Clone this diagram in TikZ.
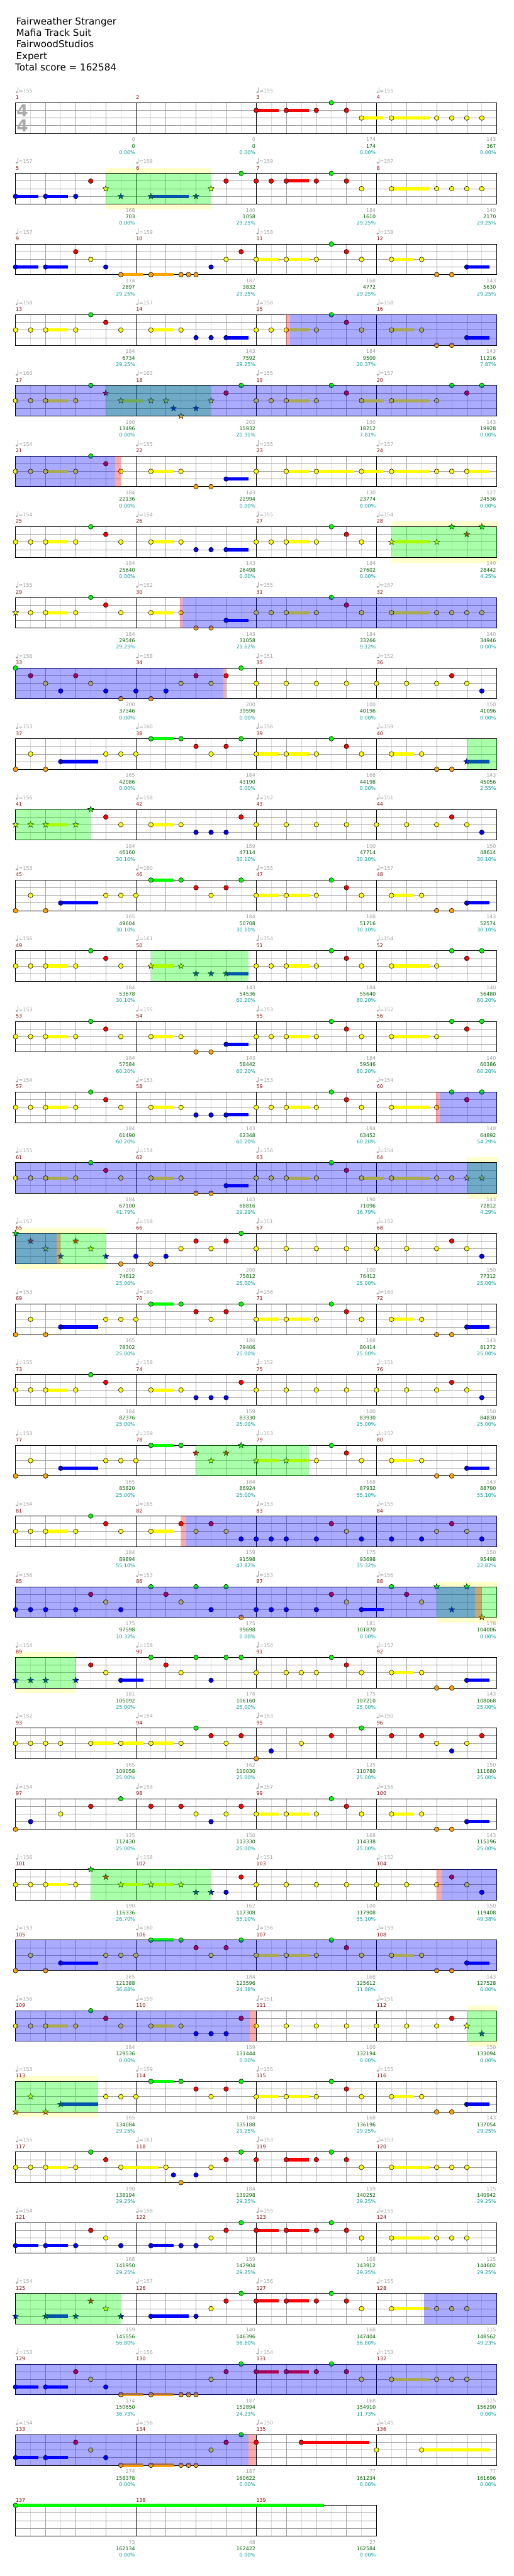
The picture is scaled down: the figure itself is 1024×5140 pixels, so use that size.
\documentclass[tikz,border=0pt]{standalone}
\usepackage{fontspec}
\setmainfont{DejaVu Sans}
\usetikzlibrary{shapes.geometric}

\definecolor{fretG}{RGB}{0,255,0}
\definecolor{fretR}{RGB}{255,0,0}
\definecolor{fretY}{RGB}{255,255,0}
\definecolor{fretB}{RGB}{0,0,255}
\definecolor{fretO}{RGB}{255,165,0}
\definecolor{gridlight}{RGB}{220,220,220}
\definecolor{gridmid}{RGB}{160,160,160}
\definecolor{spglow}{RGB}{255,255,204}
\definecolor{barred}{RGB}{139,0,0}
\definecolor{softgray}{RGB}{160,160,160}
\definecolor{timegray}{RGB}{170,170,170}
\definecolor{scoregreen}{RGB}{0,100,0}
\definecolor{pctteal}{RGB}{0,153,153}

\newcommand\chartfont{\fontsize{10}{12}\selectfont}
\def\lnG{0}\def\lnR{1}\def\lnY{2}\def\lnB{3}\def\lnO{4}

% staff row helpers (positions in eighth notes, 0..31 per row)
\newcommand\setrow[1]{\pgfmathsetmacro\rowtop{205+141*#1}}
\newcommand\drawstaff[1]{%
  \pgfmathsetmacro\rowwd{240*#1}%
  \pgfmathtruncatemacro\nsub{8*#1}%
  \pgfmathtruncatemacro\nbar{#1-1}%
  \foreach \vk in {1,3,...,\nsub} \draw[gridlight] ({31+30*\vk},\rowtop) -- ++(0,61);
  \foreach \vk in {2,4,...,\nsub} \draw[gridmid] ({31+30*\vk},\rowtop) -- ++(0,61);
  \foreach \hl in {1,2,3} \draw[gridmid] (31,{\rowtop+15.25*\hl}) -- ++(\rowwd,0);
  \foreach \mj in {1,...,\nbar} \draw ({31+240*\mj},\rowtop) -- ++(0,61);
  \draw (31,\rowtop) rectangle ++(\rowwd,61);
}
\newcommand\tails[1]{%
  \foreach \p/\q/\fr in {#1} {%
    \pgfmathsetmacro\gy{\rowtop+15.25*\csname ln\fr\endcsname}%
    \draw[tail, draw=fret\fr] ({31+30*\p},\gy) -- ({31+30*\q},\gy);
  }}
\newcommand\gems[1]{%
  \foreach \p/\fr in {#1} {%
    \pgfmathsetmacro\gy{\rowtop+15.25*\csname ln\fr\endcsname}%
    \filldraw[gem, fill=fret\fr] ({31+30*\p},\gy) circle (4.7pt);
  }}
\newcommand\stargems[1]{%
  \foreach \p/\fr in {#1} {%
    \pgfmathsetmacro\gy{\rowtop+15.25*\csname ln\fr\endcsname}%
    \node[stargem, fill=fret\fr] at ({31+30*\p},\gy) {};
  }}
\newcommand\sphalo[2]{%
  \fill[spglow] ({31+30*#1},{\rowtop-10.5}) rectangle ({31+30*#2},\rowtop);
  \fill[spglow] ({31+30*#1},{\rowtop+61}) rectangle ({31+30*#2},{\rowtop+71.5});}
\newcommand\spgreen[2]{\fill[fretG, fill opacity=0.333] ({31+30*#1},\rowtop) rectangle ({31+30*#2},{\rowtop+61});}
\newcommand\spblue[2]{\fill[fretB, fill opacity=0.333] ({31+30*#1},\rowtop) rectangle ({31+30*#2},{\rowtop+61});}
\newcommand\spedge[2]{\fill[fretR, fill opacity=0.333] ({31+30*#1},\rowtop) rectangle ({31+30*#2},{\rowtop+61});}
\newcommand\barinfo[1]{%
  \foreach \mno/\tm/\bscore/\tot/\pc [count=\mj from 0] in {#1} {%
    \pgfmathsetmacro\bx{31+240*\mj}%
    \edef\tmpo{\tm}%
    \node[barno] (bar-\mno) at (\bx,{\rowtop-7}) {\mno};
    \ifx\tmpo\empty\else\pic at (\bx,{\rowtop-20}) {tempo=\tm};\fi
    \node[ptsno] at ({\bx+239},{\rowtop+77}) {\bscore};
    \node[totno] at ({\bx+239},{\rowtop+90}) {\tot};
    \node[pctno] at ({\bx+239},{\rowtop+103}) {\pc\%};
  }}

\begin{document}
\begin{tikzpicture}[
  x=1pt, y=-1pt, line width=1pt,
  gem/.style={draw=black, line width=0.7pt},
  stargem/.style={star, star points=5, star point ratio=2.4, minimum size=12.5pt, inner sep=0pt, draw=black, line width=0.6pt},
  tail/.style={line width=6.5pt},
  headline/.style={anchor=base west, inner sep=0pt, font=\fontsize{19}{23}\selectfont},
  timesig/.style={inner sep=0pt, text=timegray, font=\bfseries\fontsize{33}{33}\selectfont},
  barno/.style={anchor=base west, inner sep=0pt, text=barred, font=\chartfont},
  tempotxt/.style={anchor=base west, inner sep=0pt, text=softgray, font=\chartfont},
  ptsno/.style={anchor=base east, inner sep=0pt, text=softgray, font=\chartfont},
  totno/.style={anchor=base east, inner sep=0pt, text=scoregreen, font=\chartfont},
  pctno/.style={anchor=base east, inner sep=0pt, text=pctteal, font=\chartfont},
  pics/tempo/.style={code={
    \fill[softgray] (2.4,-1) ellipse (2.4pt and 1.8pt);
    \draw[softgray, line width=0.8pt] (4.4,-1) -- (4.4,-11);
    \node[tempotxt] at (6,0) {=#1};
  }}
]
\useasboundingbox (0,0) rectangle (1024,5140);

\node[headline] (song) at (31.5,49.3) {Fairweather Stranger};
\node[headline] (band) at (31.5,72) {Mafia Track Suit};
\node[headline] (charter) at (31.5,95) {FairwoodStudios};
\node[headline] (level) at (31.5,118.3) {Expert};
\node[headline] (total) at (29.7,141.3) {Total score = 162584};

% measures 1-4
\setrow{0}\drawstaff{4}
\node[timesig] (tsup) at (44.5,221) {4};
\node[timesig] (tsdown) at (44.5,250.5) {4};
\tails{16/17.5/R,18/19.5/R,23/24.5/Y,25/27.5/Y}
\gems{16/R,18/R,20/R,21/G,22/R,23/Y,25/Y,28/Y,29/Y,30/Y,31/Y}
\barinfo{1/155/0/0/0.00,2//0/0/0.00,3/155/174/174/0.00,4/155/143/367/0.00}

% measures 5-8
\setrow{1}\sphalo{6}{13}\drawstaff{4}
\tails{0/1.5/B,2/3.5/B,9/11.5/B,18/19.5/R,25/27.5/Y}
\gems{0/B,2/B,4/B,5/R,14/R,15/G,16/R,17/R,18/R,20/R,21/G,22/R,23/Y,25/Y,28/Y,29/Y,30/Y,31/Y}
\stargems{6/Y,7/B,9/B,12/B,13/Y}
\spgreen{6}{13}
\barinfo{5/157/168/703/0.00,6/158/140/1058/29.25,7/159/184/1610/29.25,8/157/140/2170/29.25}

% measures 9-12
\setrow{2}\drawstaff{4}
\tails{0/1.5/B,2/3.5/B,7/8.5/O,9/10.5/O,16/17.5/Y,18/19.5/Y,25/26.5/Y,30/31.5/B}
\gems{0/B,2/B,4/R,5/Y,6/B,7/O,9/O,11/O,11.5/O,12/O,13/B,14/Y,15/R,16/Y,18/Y,20/Y,21/G,22/R,23/Y,25/Y,27/Y,28/O,29/O,30/B}
\barinfo{9/157/174/2897/29.25,10/159/187/3832/29.25,11/158/168/4772/29.25,12/158/143/5630/29.25}

% measures 13-16
\setrow{3}\drawstaff{4}
\tails{2/3.5/Y,9/10.5/Y,14/15.5/B,18/19.5/Y,25/26.5/Y,30/31.5/B}
\gems{0/Y,1/Y,2/Y,4/Y,5/G,6/R,7/Y,9/Y,11/Y,12/B,13/B,14/B,16/Y,17/Y,18/Y,20/Y,21/G,22/R,23/Y,25/Y,27/Y,28/O,29/O,30/B}
\spblue{18.27}{32}\spedge{18}{18.27}
\barinfo{13/158/184/6734/29.25,14/157/143/7592/29.25,15/158/184/9500/20.37,16/158/143/11216/7.87}

% measures 17-20
\setrow{4}\drawstaff{4}
\tails{2/3.5/Y,7/8.5/Y,18/19.5/Y,23/24.5/Y,25/27.5/Y}
\gems{0/Y,1/Y,2/Y,4/Y,5/G,14/R,15/G,16/Y,17/Y,18/Y,20/Y,21/G,22/R,23/Y,25/Y,28/Y,29/G,30/R,31/G}
\stargems{6/R,7/Y,9/Y,10/Y,10.5/B,11/O,12/B,13/Y}
\spgreen{6}{13}\spblue{0}{32}
\barinfo{17/160/190/13496/0.00,18/163/203/15932/20.31,19/155/190/18212/7.81,20/157/143/19928/0.00}

% measures 21-24
\setrow{5}\drawstaff{4}
\tails{2/3.5/Y,9/10.5/Y,14/15.5/B,18/19.5/Y,20/22.5/Y,23/24.5/Y,25/27.5/Y,30/31.5/Y}
\gems{0/Y,1/Y,2/Y,4/Y,5/G,6/R,7/Y,9/Y,11/Y,12/O,13/O,14/B,16/Y,18/Y,20/Y,23/Y,25/Y,28/Y,29/Y,30/Y}
\spblue{0}{6.64}\spedge{6.64}{7}
\barinfo{21/154/184/22136/0.00,22/155/143/22994/0.00,23/155/130/23774/0.00,24/157/127/24536/0.00}

% measures 25-28
\setrow{6}\sphalo{25}{32}\drawstaff{4}
\tails{2/3.5/Y,9/10.5/Y,14/15.5/B,18/19.5/Y,25/27.5/Y}
\gems{0/Y,1/Y,2/Y,4/Y,5/G,6/R,7/Y,9/Y,11/Y,12/B,13/B,14/B,16/Y,17/Y,18/Y,20/Y,21/G,22/R,23/Y}
\stargems{25/Y,28/Y,29/G,30/R,31/G}
\spgreen{25}{32}
\barinfo{25/154/184/25640/0.00,26/154/143/26498/0.00,27/155/184/27602/0.00,28/154/140/28442/4.25}

% measures 29-32
\setrow{7}\drawstaff{4}
\tails{2/3.5/Y,9/10.5/Y,14/15.5/B,18/19.5/Y,25/27.5/Y}
\gems{1/Y,2/Y,4/Y,5/G,6/R,7/Y,9/Y,11/Y,12/O,13/O,14/B,16/Y,17/Y,18/Y,20/Y,21/G,22/R,23/Y,25/Y,28/Y,29/Y,30/Y,31/Y}
\stargems{0/Y}
\spblue{11.1}{32}\spedge{10.93}{11.1}
\barinfo{29/155/184/29546/29.25,30/152/143/31058/21.62,31/155/184/33266/9.12,32/157/140/34946/0.00}

% measures 33-36
\setrow{8}\drawstaff{4}
\gems{0/G,1/R,2/Y,3/B,4/R,5/Y,6/B,7/O,8/B,9/O,10/B,11/Y,12/R,13/Y,14/R,15/G,16/Y,18/Y,20/Y,22/Y,24/Y,26/Y,28/Y,29/R,30/Y,31/B}
\spblue{0}{13.82}\spedge{13.82}{14}
\barinfo{33/156/200/37346/0.00,34/158/200/39596/0.00,35/151/100/40196/0.00,36/152/150/41096/0.00}

% measures 37-40
\setrow{9}\drawstaff{4}
\tails{3/5.5/B,9/10.5/G,16/17.5/Y,18/19.5/Y,25/26.5/Y,30/31.5/B}
\gems{0/O,1/Y,2/O,3/B,6/Y,7/Y,8/Y,9/G,11/G,12/R,13/Y,14/R,15/G,16/Y,18/Y,20/Y,21/G,22/R,23/Y,25/Y,27/Y,28/O,29/O}
\stargems{30/B}
\spgreen{30}{32}
\barinfo{37/153/165/42086/0.00,38/160/184/43190/0.00,39/156/168/44198/0.00,40/159/143/45056/2.55}

% measures 41-44
\setrow{10}\drawstaff{4}
\tails{2/3.5/Y,9/10.5/Y}
\gems{6/R,7/Y,9/Y,11/Y,12/B,13/B,14/B,15/R,16/Y,18/Y,20/Y,22/Y,24/Y,26/Y,28/Y,29/R,30/Y,31/B}
\stargems{0/Y,1/Y,2/Y,4/Y,5/G}
\spgreen{0}{5}
\barinfo{41/156/184/46160/30.10,42/158/159/47114/30.10,43/152/100/47714/30.10,44/151/150/48614/30.10}

% measures 45-48
\setrow{11}\drawstaff{4}
\tails{3/5.5/B,9/10.5/G,16/17.5/Y,18/19.5/Y,25/26.5/Y,30/31.5/B}
\gems{0/O,1/Y,2/O,3/B,6/Y,7/Y,8/Y,9/G,11/G,12/R,13/Y,14/R,15/G,16/Y,18/Y,20/Y,21/G,22/R,23/Y,25/Y,27/Y,28/O,29/O,30/B}
\barinfo{45/153/165/49604/30.10,46/160/184/50708/30.10,47/155/168/51716/30.10,48/157/143/52574/30.10}

% measures 49-52
\setrow{12}\drawstaff{4}
\tails{2/3.5/Y,9/10.5/Y,14/15.5/B,18/19.5/Y,25/27.5/Y}
\gems{0/Y,1/Y,2/Y,4/Y,5/G,6/R,7/Y,16/Y,17/Y,18/Y,20/Y,21/G,22/R,23/Y,25/Y,28/Y,29/G,30/R,31/G}
\stargems{9/Y,11/Y,12/B,13/B,14/B}
\spgreen{9}{15.5}
\barinfo{49/156/184/53678/30.10,50/161/143/54536/60.20,51/154/184/55640/60.20,52/154/140/56480/60.20}

% measures 53-56
\setrow{13}\drawstaff{4}
\tails{2/3.5/Y,9/10.5/Y,14/15.5/B,18/19.5/Y,25/27.5/Y}
\gems{0/Y,1/Y,2/Y,4/Y,5/G,6/R,7/Y,9/Y,11/Y,12/O,13/O,14/B,16/Y,17/Y,18/Y,20/Y,21/G,22/R,23/Y,25/Y,28/Y,29/G,30/R,31/G}
\barinfo{53/153/184/57584/60.20,54/155/143/58442/60.20,55/153/184/59546/60.20,56/152/140/60386/60.20}

% measures 57-60
\setrow{14}\drawstaff{4}
\tails{2/3.5/Y,9/10.5/Y,14/15.5/B,18/19.5/Y,25/27.5/Y}
\gems{0/Y,1/Y,2/Y,4/Y,5/G,6/R,7/Y,9/Y,11/Y,12/B,13/B,14/B,16/Y,17/Y,18/Y,20/Y,21/G,22/R,23/Y,25/Y,28/Y,29/G,30/R,31/G}
\spblue{28.2}{32}\spedge{27.95}{28.2}
\barinfo{57/154/184/61490/60.20,58/153/143/62348/60.20,59/153/184/63452/60.20,60/154/140/64892/54.29}

% measures 61-64
\setrow{15}\sphalo{30}{32}\drawstaff{4}
\tails{2/3.5/Y,9/10.5/Y,14/15.5/B,18/19.5/Y,23/24.5/Y,25/27.5/Y}
\gems{0/Y,1/Y,2/Y,4/Y,5/G,6/R,7/Y,9/Y,11/Y,12/O,13/O,14/B,16/Y,17/Y,18/Y,20/Y,21/G,22/R,23/Y,25/Y,28/Y,29/Y}
\stargems{30/Y,31/Y}
\spgreen{30}{32}\spblue{0}{32}
\barinfo{61/155/184/67100/41.79,62/154/143/68816/29.29,63/156/190/71096/16.79,64/154/143/72812/4.29}

% measures 65-68
\setrow{16}\sphalo{0}{6}\drawstaff{4}
\gems{7/O,8/B,9/O,10/B,11/Y,12/R,13/Y,14/R,15/G,16/Y,18/Y,20/Y,22/Y,24/Y,26/Y,28/Y,29/R,30/Y,31/B}
\stargems{0/G,1/R,2/Y,3/B,4/R,5/Y,6/B}
\spgreen{0}{6}\spblue{0}{2.72}\spedge{2.72}{3}
\barinfo{65/157/200/74612/25.00,66/158/200/75812/25.00,67/151/100/76412/25.00,68/152/150/77312/25.00}

% measures 69-72
\setrow{17}\drawstaff{4}
\tails{3/5.5/B,9/10.5/G,16/17.5/Y,18/19.5/Y,25/26.5/Y,30/31.5/B}
\gems{0/O,1/Y,2/O,3/B,6/Y,7/Y,8/Y,9/G,11/G,12/R,13/Y,14/R,15/G,16/Y,18/Y,20/Y,21/G,22/R,23/Y,25/Y,27/Y,28/O,29/O,30/B}
\barinfo{69/153/165/78302/25.00,70/160/184/79406/25.00,71/156/168/80414/25.00,72/160/143/81272/25.00}

% measures 73-76
\setrow{18}\drawstaff{4}
\tails{2/3.5/Y,9/10.5/Y}
\gems{0/Y,1/Y,2/Y,4/Y,5/G,6/R,7/Y,9/Y,11/Y,12/B,13/B,14/B,15/R,16/Y,18/Y,20/Y,22/Y,24/Y,26/Y,28/Y,29/R,30/Y,31/B}
\barinfo{73/155/184/82376/25.00,74/158/159/83330/25.00,75/152/100/83930/25.00,76/151/150/84830/25.00}

% measures 77-80
\setrow{19}\drawstaff{4}
\tails{3/5.5/B,9/10.5/G,16/17.5/Y,18/19.5/Y,25/26.5/Y,30/31.5/B}
\gems{0/O,1/Y,2/O,3/B,6/Y,7/Y,8/Y,9/G,11/G,20/Y,21/G,22/R,23/Y,25/Y,27/Y,28/O,29/O,30/B}
\stargems{12/R,13/Y,14/R,15/G,16/Y,18/Y}
\spgreen{12}{19.5}
\barinfo{77/153/165/85820/25.00,78/159/184/86924/25.00,79/153/168/87932/55.10,80/157/143/88790/55.10}

% measures 81-84
\setrow{20}\drawstaff{4}
\tails{2/3.5/Y,9/10.5/Y}
\gems{0/Y,1/Y,2/Y,4/Y,5/G,6/R,7/Y,9/Y,11/R,12/Y,13/R,14/Y,15/B,16/B,17/B,18/B,20/B,21/R,22/Y,23/B,25/B,27/B,28/Y,29/R,30/Y,31/B}
\spblue{11.33}{32}\spedge{11}{11.33}
\barinfo{81/154/184/89894/55.10,82/165/159/91598/47.82,83/153/175/93698/35.32,84/155/150/95498/22.82}

% measures 85-88
\setrow{21}\sphalo{28}{32}\drawstaff{4}
\tails{23/24.5/B}
\gems{0/B,1/B,2/B,4/B,5/R,6/Y,7/B,9/G,10/R,11/Y,12/G,13/B,14/G,15/O,16/B,17/B,18/B,20/B,21/R,22/Y,23/B,25/G,26/R,27/Y}
\stargems{28/G,29/B,30/G,31/O}
\spgreen{28}{32}\spblue{0}{30.56}\spedge{30.56}{31}
\barinfo{85/156/175/97598/10.32,86/153/175/99698/0.00,87/153/181/101870/0.00,88/156/178/104006/0.00}

% measures 89-92
\setrow{22}\sphalo{0}{4}\drawstaff{4}
\tails{7/8.5/B,25/26.5/Y,30/31.5/B}
\gems{5/R,6/Y,7/B,9/G,10/R,11/Y,12/G,13/B,14/G,15/G,16/Y,18/Y,19/Y,20/Y,21/G,22/R,23/Y,25/Y,27/Y,28/O,29/O,30/B}
\stargems{0/B,1/B,2/B,4/B}
\spgreen{0}{4}
\barinfo{89/154/181/105092/25.00,90/158/178/106160/25.00,91/154/175/107210/25.00,92/157/143/108068/25.00}

% measures 93-96
\setrow{23}\drawstaff{4}
\tails{5/6.5/Y,7/8.5/Y,9/10.5/Y}
\gems{0/Y,1/Y,2/Y,3/Y,5/Y,7/Y,9/Y,11/Y,12/G,13/R,14/Y,15/R,16/O,17/B,19/Y,21/R,23/G,25/R,27/R,28/Y,29/B,30/Y,31/R}
\barinfo{93/152/165/109058/25.00,94/154/162/110030/25.00,95/153/125/110780/25.00,96/150/150/111680/25.00}

% measures 97-100
\setrow{24}\drawstaff{4}
\tails{16/17.5/Y,18/19.5/Y,25/26.5/Y,30/31.5/B}
\gems{0/O,1/B,3/Y,5/R,7/G,9/R,11/R,12/Y,13/B,14/Y,15/R,16/Y,18/Y,20/Y,21/G,22/R,23/Y,25/Y,27/Y,28/O,29/O,30/B}
\barinfo{97/154/125/112430/25.00,98/158/150/113330/25.00,99/157/168/114338/25.00,100/156/143/115196/25.00}

% measures 101-104
\setrow{25}\drawstaff{4}
\tails{2/3.5/Y,7/8.5/Y,9/10.5/Y}
\gems{0/Y,1/Y,2/Y,4/Y,14/B,15/R,16/Y,18/Y,20/Y,22/Y,24/Y,26/Y,28/Y,29/R,30/Y,31/B}
\stargems{5/G,6/R,7/Y,9/Y,11/Y,12/B,13/B}
\spgreen{5}{13}\spblue{28.33}{32}\spedge{28}{28.33}
\barinfo{101/156/190/116336/26.70,102/158/162/117308/55.10,103/151/100/117908/55.10,104/152/150/119408/49.38}

% measures 105-108
\setrow{26}\drawstaff{4}
\tails{3/5.5/B,9/10.5/G,16/17.5/Y,18/19.5/Y,25/26.5/Y,30/31.5/B}
\gems{0/O,1/Y,2/O,3/B,6/Y,7/Y,8/Y,9/G,11/G,12/R,13/Y,14/R,15/G,16/Y,18/Y,20/Y,21/G,22/R,23/Y,25/Y,27/Y,28/O,29/O,30/B}
\spblue{0}{32}
\barinfo{105/153/165/121388/36.88,106/160/184/123596/24.38,107/156/168/125612/11.88,108/159/143/127528/0.00}

% measures 109-112
\setrow{27}\sphalo{30}{32}\drawstaff{4}
\tails{2/3.5/Y,9/10.5/Y}
\gems{0/Y,1/Y,2/Y,4/Y,5/G,6/R,7/Y,9/Y,11/Y,12/B,13/B,14/B,15/R,16/Y,18/Y,20/Y,22/Y,24/Y,26/Y,28/Y,29/R}
\stargems{30/Y,31/B}
\spgreen{30}{32}\spblue{0}{15.59}\spedge{15.59}{16}
\barinfo{109/156/184/129536/0.00,110/159/159/131444/0.00,111/151/100/132194/0.00,112/151/150/133094/0.00}

% measures 113-116
\setrow{28}\sphalo{0}{5.5}\drawstaff{4}
\tails{3/5.5/B,9/10.5/G,16/17.5/Y,18/19.5/Y,25/26.5/Y,30/31.5/B}
\gems{6/Y,7/Y,8/Y,9/G,11/G,12/R,13/Y,14/R,15/G,16/Y,18/Y,20/Y,21/G,22/R,23/Y,25/Y,27/Y,28/O,29/O,30/B}
\stargems{0/O,1/Y,2/O,3/B}
\spgreen{0}{5.5}
\barinfo{113/153/165/134084/29.25,114/159/184/135188/29.25,115/155/168/136196/29.25,116/155/143/137054/29.25}

% measures 117-120
\setrow{29}\drawstaff{4}
\tails{2/3.5/Y,7/9.5/Y,18/19.5/R,25/27.5/Y}
\gems{0/Y,1/Y,2/Y,4/Y,5/G,6/R,7/Y,10/Y,10.5/B,11/O,12/B,13/Y,14/R,15/G,16/R,18/R,20/R,21/G,22/R,23/Y,25/Y,28/Y,29/Y,30/Y}
\barinfo{117/155/190/138194/29.25,118/161/184/139298/29.25,119/153/159/140252/29.25,120/153/115/140942/29.25}

% measures 121-124
\setrow{30}\drawstaff{4}
\tails{0/1.5/B,2/3.5/B,9/10.5/B,16/17.5/R,18/19.5/R,25/27.5/Y}
\gems{0/B,2/B,4/B,5/R,6/Y,7/B,9/B,11/B,12/B,13/Y,14/R,15/G,16/R,18/R,20/R,21/G,22/R,23/Y,25/Y,28/Y,29/Y,30/Y}
\barinfo{121/154/168/141950/29.25,122/156/159/142904/29.25,123/155/168/143912/29.25,124/155/115/144602/29.25}

% measures 125-128
\setrow{31}\drawstaff{4}
\tails{2/3.5/B,9/11.5/B,16/17.5/R,18/19.5/R,25/27.5/Y}
\gems{9/B,12/B,13/Y,14/R,15/G,16/R,18/R,20/R,21/G,22/R,23/Y,25/Y,28/Y,29/Y,30/Y}
\stargems{0/B,2/B,4/B,5/R,6/Y,7/B}
\spgreen{0}{7}\spblue{27.14}{32}
\barinfo{125/154/159/145556/56.80,126/157/140/146396/56.80,127/156/168/147404/56.80,128/155/115/148562/49.23}

% measures 129-132
\setrow{32}\drawstaff{4}
\tails{0/1.5/B,2/3.5/B,7/8.5/O,9/10.5/O,16/17.5/R,18/19.5/R,25/27.5/Y}
\gems{0/B,2/B,4/R,5/Y,6/B,7/O,9/O,11/O,11.5/O,12/O,13/Y,14/R,15/G,16/R,18/R,20/R,21/G,22/R,23/Y,25/Y,28/Y,29/Y,30/Y}
\spblue{0}{32}
\barinfo{129/153/174/150650/36.73,130/156/187/152894/24.23,131/154/168/154910/11.73,132/153/115/156290/0.00}

% measures 133-136
\setrow{33}\drawstaff{4}
\tails{0/1.5/B,2/3.5/B,7/8.5/O,9/10.5/O,19/23.5/R,27/31.5/Y}
\gems{0/B,2/B,4/R,5/Y,6/B,7/O,9/O,11/O,11.5/O,12/O,13/Y,14/R,15/G,16/R,19/R,24/Y,27/Y}
\spblue{0}{15.48}\spedge{15.48}{16}
\barinfo{133/154/174/158378/0.00,134/156/187/160622/0.00,135/150/77/161234/0.00,136/145/77/161696/0.00}

% measures 137-139
\setrow{34}\drawstaff{3}
\tails{0/20.5/G}
\gems{0/G}
\barinfo{137//73/162134/0.00,138//48/162422/0.00,139//27/162584/0.00}
\end{tikzpicture}
\end{document}
